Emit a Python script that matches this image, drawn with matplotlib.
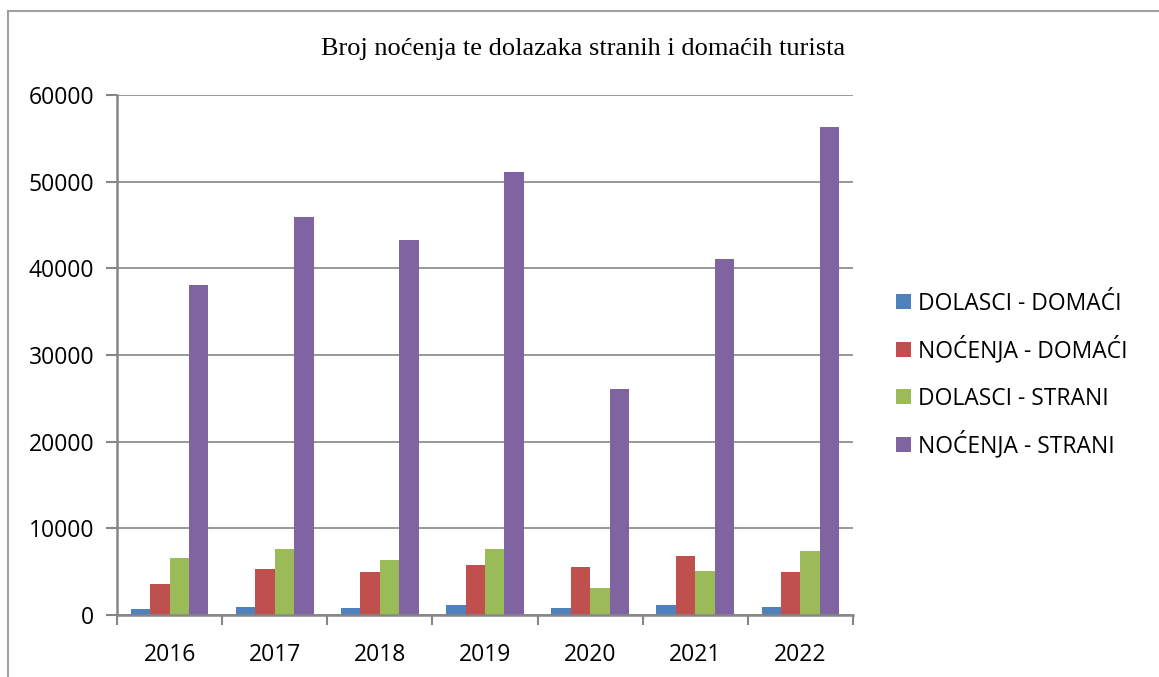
import matplotlib
matplotlib.use("Agg")
import matplotlib.pyplot as plt
from matplotlib.lines import Line2D
from matplotlib.patches import Rectangle
import numpy as np

years = ["2016", "2017", "2018", "2019", "2020", "2021", "2022"]
dolasci_domaci = [700, 920, 810, 1150, 810, 1150, 920]
nocenja_domaci = [3580, 5310, 4960, 5770, 5540, 6810, 4960]
dolasci_strani = [6580, 7620, 6350, 7620, 3120, 5080, 7390]
nocenja_strani = [38100, 45900, 43300, 51100, 26050, 41050, 56300]

series_names = ["DOLASCI - DOMAĆI", "NOĆENJA - DOMAĆI", "DOLASCI - STRANI", "NOĆENJA - STRANI"]
colors = ["#4F81BD", "#C0504D", "#9BBB59", "#8064A2"]
series = [dolasci_domaci, nocenja_domaci, dolasci_strani, nocenja_strani]

W, H = 1159, 677
fig = plt.figure(figsize=(W / 100, H / 100), dpi=100)
ax = fig.add_axes([117 / W, 1 - 615 / H, (853 - 117) / W, (615 - 95) / H])

tick_font = "Open Sans"
grid_col = "#868686"

x = np.arange(len(years))
bw = 0.185
for i, (vals, c) in enumerate(zip(series, colors)):
    ax.bar(x + (i - 1.5) * bw, vals, width=bw, color=c, zorder=3, linewidth=0)

ax.set_xlim(-0.5, len(years) - 0.5)
ax.set_ylim(0, 60000)
ax.set_yticks(np.arange(0, 60001, 10000))
ax.set_yticklabels([str(v) for v in range(0, 60001, 10000)], fontfamily=tick_font, fontsize=16.5)
ax.set_xticks(x)
ax.set_xticklabels(years, fontfamily=tick_font, fontsize=16.5)
ax.set_xticks(np.arange(-0.5, len(years), 1.0), minor=True)
ax.tick_params(axis="x", which="major", length=0, pad=20)
ax.tick_params(axis="x", which="minor", length=7, width=1.5, color=grid_col, direction="out")
ax.tick_params(axis="y", which="major", length=8, width=1.5, color=grid_col, direction="out", pad=8.5)

ax.grid(axis="y", color=grid_col, linewidth=1.2, zorder=0)
for s in ["top", "right"]:
    ax.spines[s].set_visible(False)
for s in ["left", "bottom"]:
    ax.spines[s].set_color(grid_col)
    ax.spines[s].set_linewidth(1.8)
ax.spines["bottom"].set_zorder(4)

fig.text(583 / W, 1 - 49 / H, "Broj noćenja te dolazaka stranih i domaćih turista",
         ha="center", va="center", fontfamily="Liberation Serif", fontsize=19)

# legend, drawn as evenly spaced entries
leg_y = [301, 349, 396, 444]
for name, c, yy in zip(series_names, colors, leg_y):
    fig.add_artist(Rectangle((896 / W, 1 - (yy + 7.5) / H), 15 / W, 15 / H,
                             transform=fig.transFigure, facecolor=c, edgecolor="none"))
    fig.text(918 / W, 1 - (yy + 8.5) / H, name, ha="left", va="baseline",
             fontfamily=tick_font, fontsize=16.5)

# outer frame
frame_col = "#A0A0A0"
fig.add_artist(Line2D([8 / W, 8 / W], [0, 1 - 11 / H], transform=fig.transFigure, color=frame_col, lw=1.5))
fig.add_artist(Line2D([8 / W, 1], [1 - 11 / H, 1 - 11 / H], transform=fig.transFigure, color=frame_col, lw=1.5))

fig.savefig("out.png", dpi=100)
